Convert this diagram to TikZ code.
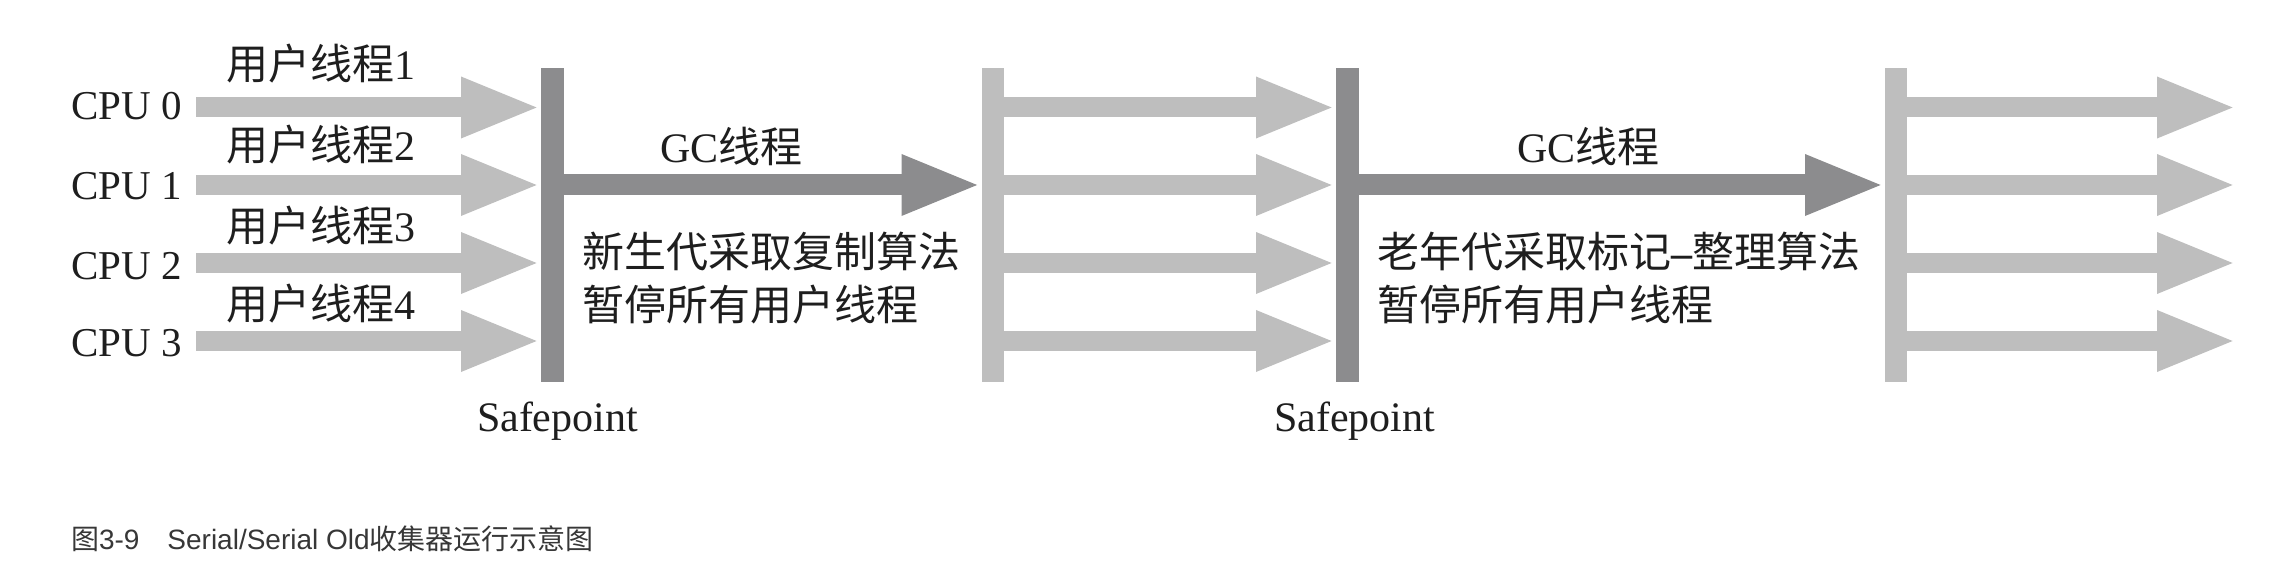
\documentclass[tikz,border=0pt]{standalone}
\usepackage{fontspec}
\setmainfont{Liberation Serif}
\newfontfamily\cjk{Noto Sans CJK SC}
\newfontfamily\capfont{Liberation Sans}
\usetikzlibrary{arrows.meta}
\definecolor{lightgr}{RGB}{190,190,190}
\definecolor{darkgr}{RGB}{140,140,142}
\definecolor{txt}{RGB}{30,30,30}
\definecolor{captxt}{RGB}{55,55,55}
\begin{document}
\begin{tikzpicture}[x=0.5pt,y=-0.5pt,
  lbl/.style={inner sep=0pt, outer sep=0pt, anchor=base west, text=txt,
              font=\fontsize{21pt}{25pt}\selectfont},
  cpulbl/.style={lbl, anchor=base east, font=\fontsize{20.5pt}{24pt}\selectfont},
  caplbl/.style={inner sep=0pt, outer sep=0pt, anchor=base west, text=captxt,
              font=\fontsize{14pt}{17pt}\selectfont\capfont},
  lightbar/.style={fill=lightgr, draw=none, minimum width=11pt, minimum height=157pt,
              inner sep=0pt, outer sep=0pt},
  darkbar/.style={lightbar, fill=darkgr, minimum width=11.5pt},
  thr/.style={draw=lightgr, line width=10pt, -{Triangle[length=40pt,width=27.5pt]}},
  gcarrow/.style={thr, draw=darkgr, line width=10.5pt},
]
\useasboundingbox (0,0) rectangle (2286,566);

% row coordinates
\coordinate (r0) at (0,107.5);
\coordinate (r1) at (0,185);
\coordinate (r2) at (0,263);
\coordinate (r3) at (0,341);

% bars
\node[darkbar]  (bar1) at (552.5,225) {};
\node[lightbar] (bar2) at (992.5,225) {};
\node[darkbar]  (bar3) at (1347.5,225) {};
\node[lightbar] (bar4) at (1896,225) {};

% CPU labels
\node[cpulbl] (cpu0) at (182,120) {CPU 0};
\node[cpulbl] (cpu1) at (182,200) {CPU 1};
\node[cpulbl] (cpu2) at (182,280) {CPU 2};
\node[cpulbl] (cpu3) at (182,357) {CPU 3};

% arrow start / end coordinates
\foreach \i in {0,1,2,3}{
  \coordinate (s\i) at (196,0 |- r\i);
  \coordinate (e\i) at (2237,0 |- r\i);
}

% user threads
\foreach \i in {0,1,2,3}{
  \draw[thr] (s\i) -- (bar1.west |- r\i);
  \draw[thr] (bar2.east |- r\i) -- (bar3.west |- r\i);
  \draw[thr] (bar4.east |- r\i) -- (e\i);
}

% GC threads
\draw[gcarrow] (bar1.east |- r1) -- (bar2.west |- r1);
\draw[gcarrow] (bar3.east |- r1) -- (bar4.west |- r1);

% thread labels
\node[lbl] (u1) at (226,80)  {{\cjk 用户线程}1};
\node[lbl] (u2) at (226,161) {{\cjk 用户线程}2};
\node[lbl] (u3) at (226,242) {{\cjk 用户线程}3};
\node[lbl] (u4) at (226,320) {{\cjk 用户线程}4};

\node[lbl] (gc1) at (660,163)  {GC{\cjk 线程}};
\node[lbl] (gc2) at (1517,163) {GC{\cjk 线程}};

\node[lbl] (d1a) at (582,268) {\cjk 新生代采取复制算法};
\node[lbl] (d1b) at (582,321) {\cjk 暂停所有用户线程};
\node[lbl] (d2a) at (1377,268) {{\cjk 老年代采取标记}{\bfseries –}{\cjk 整理算法}};
\node[lbl] (d2b) at (1377,321) {\cjk 暂停所有用户线程};

\node[lbl] (sp1) at (477,431)  {Safepoint};
\node[lbl] (sp2) at (1274,431) {Safepoint};

% caption
\node[caplbl] (cap) at (71,549) {{\cjk 图}3-9\hspace*{14pt}Serial/Serial Old{\cjk 收集器运行示意图}};
\end{tikzpicture}
\end{document}
